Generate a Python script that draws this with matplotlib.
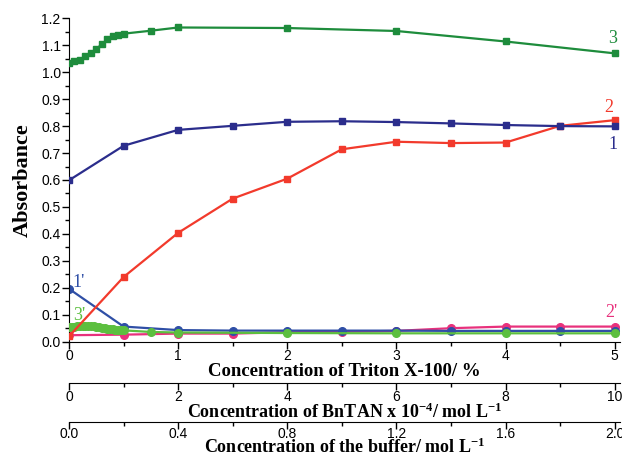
import numpy as np
import matplotlib
matplotlib.use('Agg')
import matplotlib.pyplot as plt

# datos (eje x: Triton X-100 en %)
x_main = [0, 0.5, 1, 1.5, 2, 2.5, 3, 3.5, 4, 4.5, 5]
abs_1 = [0.599, 0.727, 0.786, 0.801, 0.816, 0.818, 0.815, 0.810, 0.804, 0.800, 0.799]
abs_2 = [0.02, 0.240, 0.404, 0.531, 0.605, 0.714, 0.742, 0.737, 0.739, 0.801, 0.822]
abs_1p = [0.196, 0.056, 0.043, 0.041, 0.041, 0.041, 0.041, 0.040, 0.040, 0.040, 0.040]
abs_2p = [0.024, 0.026, 0.030, 0.030, 0.035, 0.037, 0.040, 0.050, 0.056, 0.056, 0.056]

x_3 = [0, 0.05, 0.1, 0.15, 0.2, 0.25, 0.3, 0.35, 0.4, 0.45, 0.5, 0.75, 1, 2, 3, 4, 5]
abs_3 = [1.034, 1.040, 1.046, 1.060, 1.071, 1.087, 1.103, 1.122, 1.133, 1.139, 1.143,
         1.154, 1.166, 1.164, 1.153, 1.114, 1.070]

x_3p = [0, 0.025, 0.05, 0.075, 0.1, 0.125, 0.15, 0.175, 0.2, 0.225, 0.25, 0.275, 0.3,
        0.325, 0.35, 0.375, 0.4, 0.425, 0.45, 0.475, 0.5, 0.75, 1, 2, 3, 4, 5]
abs_3p = [0.055, 0.055, 0.056, 0.057, 0.058, 0.059, 0.060, 0.059, 0.058, 0.057, 0.056,
          0.054, 0.052, 0.050, 0.048, 0.047, 0.046, 0.045, 0.044, 0.043, 0.042,
          0.036, 0.034, 0.032, 0.031, 0.031, 0.031]

c_green = '#1e8c3c'
c_navy = '#2b2d8c'
c_red = '#f23a2c'
c_blue = '#2f4fa6'
c_pink = '#e8317c'
c_lgreen = '#5cbf3f'

serif = ['Liberation Serif', 'DejaVu Serif']
sans = ['Liberation Sans', 'DejaVu Sans']

plt.rcParams['font.family'] = sans
plt.rcParams['mathtext.fontset'] = 'custom'
plt.rcParams['mathtext.rm'] = 'Liberation Serif:bold'
plt.rcParams['mathtext.it'] = 'Liberation Serif:bold'
plt.rcParams['mathtext.bf'] = 'Liberation Serif:bold'

fig = plt.figure(figsize=(6.22, 4.58), dpi=100)
ax = fig.add_axes([0.111, 0.254, 0.886, 0.706])

ax.plot(x_3p, abs_3p, '-o', color=c_lgreen, lw=1.6, ms=5.5, zorder=3)
ax.plot(x_main, abs_2p, '-o', color=c_pink, lw=1.6, ms=5.5, zorder=2)
ax.plot(x_main, abs_1p, '-o', color=c_blue, lw=1.6, ms=5.5, zorder=2)
ax.plot(x_main, abs_2, '-s', color=c_red, lw=1.6, ms=5, zorder=3)
ax.plot(x_main, abs_1, '-s', color=c_navy, lw=1.6, ms=5, zorder=3)
ax.plot(x_3, abs_3, '-s', color=c_green, lw=1.6, ms=5, zorder=3)

ax.set_xlim(0, 5.05)
ax.set_ylim(0, 1.2)
ax.spines['top'].set_visible(False)
ax.spines['right'].set_visible(False)
ax.set_xticks([0, 1, 2, 3, 4, 5])
ax.set_xticks(np.arange(0.5, 5, 1), minor=True)
ax.set_yticks(np.arange(0, 1.21, 0.1))
ax.set_yticks(np.arange(0.05, 1.2, 0.1), minor=True)
ax.yaxis.set_major_formatter(matplotlib.ticker.FormatStrFormatter('%.1f'))
ax.tick_params(which='major', length=5, width=1, labelsize=10, pad=1)
ax.tick_params(axis='x', which='major', pad=0)
ax.tick_params(which='minor', length=3, width=1)

lab_font = dict(family=serif, fontweight='bold', fontsize=13)
ax.set_xlabel('Concentration of Triton X-100/ %', labelpad=0,
              family=serif, fontweight='bold', fontsize=13.5)
ax.set_ylabel('Absorbance', labelpad=6, family=serif, fontweight='bold', fontsize=16)

# ejes secundarios debajo
ax2 = ax.secondary_xaxis(-0.128, functions=(lambda x: 2 * x, lambda x: x / 2))
ax2.set_xticks([0, 2, 4, 6, 8, 10])
ax2.set_xticks([1, 3, 5, 7, 9], minor=True)
ax2.tick_params(which='major', length=5, width=1, labelsize=10, pad=0)
ax2.tick_params(which='minor', length=3, width=1)
ax2.set_xlabel('Concentration of BnTAN x 10$^{-4}$/ mol L$^{-1}$', labelpad=-1, **lab_font)

ax3 = ax.secondary_xaxis(-0.248, functions=(lambda x: 0.4 * x, lambda x: x / 0.4))
ax3.set_xticks([0, 0.4, 0.8, 1.2, 1.6, 2.0])
ax3.set_xticks([0.2, 0.6, 1.0, 1.4, 1.8], minor=True)
ax3.xaxis.set_major_formatter(matplotlib.ticker.FormatStrFormatter('%.1f'))
ax3.tick_params(which='major', length=5, width=1, labelsize=10, pad=-1)
ax3.tick_params(which='minor', length=3, width=1)
ax3.set_xlabel('Concentration of the buffer/ mol L$^{-1}$', labelpad=-3, **lab_font)

# etiquetas de las curvas
curve_labels = [('3', 4.98, 1.124, c_green), ('2', 4.95, 0.87, c_red), ('1', 4.98, 0.733, c_navy),
                ("2'", 4.97, 0.107, c_pink), ("1'", 0.09, 0.219, c_blue), ("3'", 0.09, 0.096, c_lgreen)]
for txt, xx, yy, col in curve_labels:
    ax.text(xx, yy, txt, color=col, fontsize=13, family=serif, va='center', ha='center')

fig.savefig('out.png', dpi=100)
